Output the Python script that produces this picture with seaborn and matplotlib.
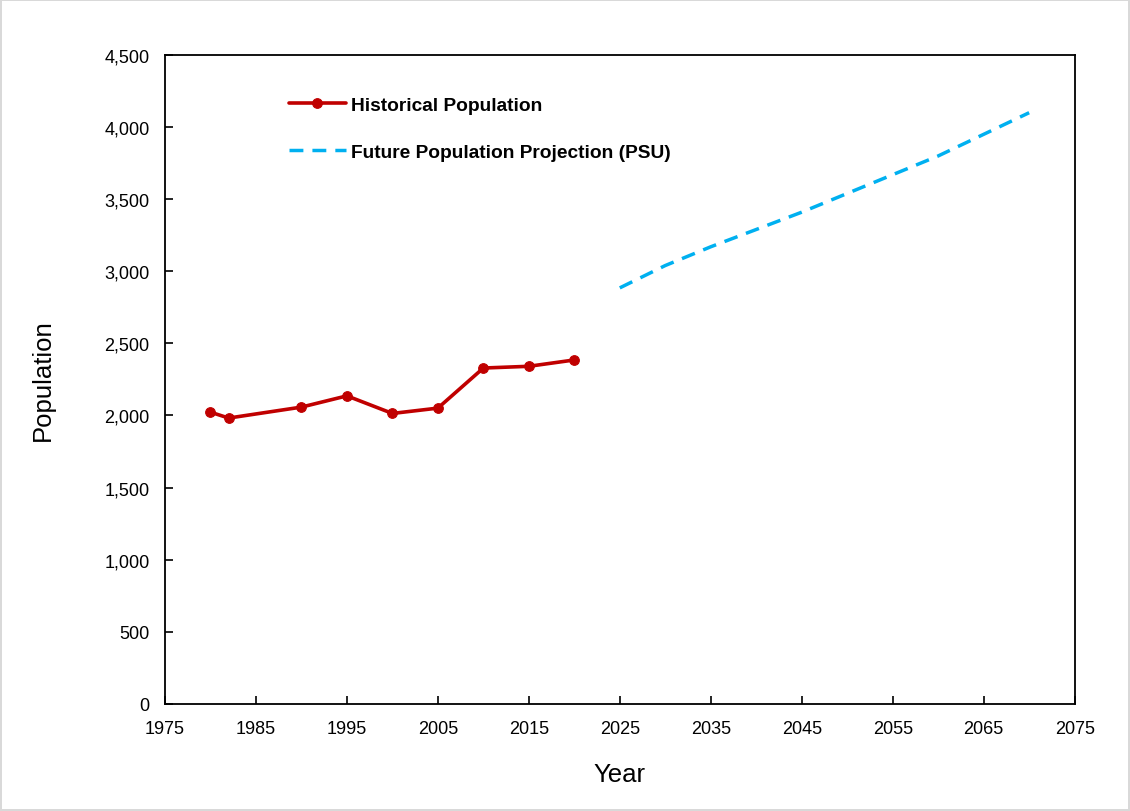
import numpy as np
import pandas as pd
import matplotlib
matplotlib.use("Agg")
import matplotlib.pyplot as plt
from matplotlib.ticker import FuncFormatter, MultipleLocator
import seaborn as sns

hist_years = [1980, 1982, 1990, 1995, 2000, 2005, 2010, 2015, 2020]
hist_pop = [2023, 1982, 2058, 2136, 2014, 2051, 2329, 2341, 2385]

proj_years = [2025, 2030, 2035, 2040, 2045, 2050, 2055, 2060, 2065, 2070]
proj_pop = [2885, 3040, 3170, 3290, 3410, 3540, 3670, 3800, 3950, 4100]

year_ticks = list(range(1975, 2076, 10))

sns.set_style("ticks")
plt.rcParams['font.family'] = ['Liberation Sans', 'DejaVu Sans']
plt.rcParams['text.color'] = 'black'
plt.rcParams['axes.labelcolor'] = 'black'
plt.rcParams['xtick.color'] = 'black'
plt.rcParams['ytick.color'] = 'black'

hist_df = pd.DataFrame({'Year': hist_years, 'Population': hist_pop})
proj_df = pd.DataFrame({'Year': proj_years, 'Population': proj_pop})

fig = plt.figure(figsize=(11.3, 8.12), dpi=100)
fig.patch.set_edgecolor('#d9d9d9')
fig.patch.set_linewidth(1.5)
ax = fig.add_axes([0.146, 0.132, 0.805, 0.799])

sns.lineplot(data=hist_df, x='Year', y='Population', ax=ax, color='#C00000',
             linewidth=2.6, marker='o', markersize=7, markeredgecolor='#C00000',
             label='Historical Population')
sns.lineplot(data=proj_df, x='Year', y='Population', ax=ax, color='#00B0F0',
             linewidth=2.5, linestyle=(0, (4, 2.6)),
             label='Future Population Projection (PSU)')

ax.set_xlim(1975, 2075)
ax.set_ylim(0, 4500)
ax.set_xticks(year_ticks)
ax.yaxis.set_major_locator(MultipleLocator(500))
ax.yaxis.set_major_formatter(FuncFormatter(lambda v, p: f'{int(v):,}'))
ax.tick_params(direction='in', length=6, width=1.2, labelsize=13)
ax.tick_params(axis='x', pad=12)
ax.tick_params(axis='y', pad=11)
for s in ax.spines.values():
    s.set_visible(True)
    s.set_linewidth(1.3)
    s.set_color('black')

ax.set_xlabel('Year', fontsize=18.5, labelpad=18)
ax.set_ylabel('Population', fontsize=18.5, labelpad=36)

leg = ax.legend(loc='upper left', bbox_to_anchor=(0.117, 0.963), frameon=False,
                handlelength=3.0, handletextpad=0.25, labelspacing=1.55,
                prop={'weight': 'bold', 'size': 13.8})

fig.savefig('out.png', dpi=100)
